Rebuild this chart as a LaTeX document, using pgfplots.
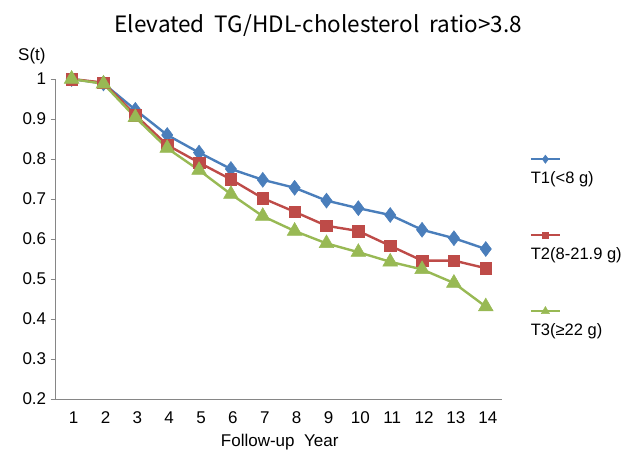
\documentclass[border=0pt]{standalone}
\usepackage{pgfplots}
\pgfplotsset{compat=1.18}
\usepackage{fontspec}
\setmainfont{Liberation Sans}
\newfontfamily\titlefont{Noto Sans CJK KR}
\definecolor{xlblue}{HTML}{4A7EBB}
\definecolor{xlred}{HTML}{BE4B48}
\definecolor{xlgreen}{HTML}{98B954}
\definecolor{axgray}{HTML}{868686}
\begin{document}
\begin{tikzpicture}
\begin{axis}[
  name=main,
  at={(0,0)}, anchor=south west,
  scale only axis,
  width=446pt, height=320pt,
  xmin=0.5, xmax=14.5,
  ymin=0.2, ymax=1,
  axis x line*=bottom, axis y line*=left,
  axis line style={axgray, line width=0.8pt},
  xtick={1,...,14},
  xticklabels={1,2,3,4,5,6,7,8,9,10,11,12,13,14},
  extra x ticks={0.5,1.5,...,14.5},
  extra x tick labels={},
  extra x tick style={major tick length=5pt, tick style={axgray, line width=0.8pt}},
  ytick={0.2,0.3,...,1.0},
  yticklabels={0.2,0.3,0.4,0.5,0.6,0.7,0.8,0.9,1},
  tick align=outside,
  x tick style={draw=none},
  y tick style={axgray, line width=0.8pt},
  major tick length=5pt,
  tick label style={font=\fontsize{17}{20}\selectfont},
  xticklabel style={yshift=-4pt, xshift=2pt},
  yticklabel style={xshift=-1pt},
  /pgf/number format/assume math mode=true,
  clip=false,
  legend style={
    at={(472pt,230pt)}, anchor=north west,
    draw=none, fill=none,
    font=\fontsize{16.5}{19}\selectfont,
    nodes={text height=12pt, text depth=4pt, inner sep=0pt, anchor=west},
    row sep=60pt, column sep=0pt,
  },
  legend cell align=left,
  legend image code/.code={
    \draw[overlay, mark repeat=2, mark phase=2, #1, every mark/.append style={scale=0.55}]
      plot coordinates {(0pt,20pt) (14.5pt,20pt) (29pt,20pt)};
  },
]
\addplot[xlblue, line width=2.4pt, mark=diamond*, mark size=7.5pt, mark options={solid, fill=xlblue, line width=0.5pt}]
coordinates {(1,1.0) (2,0.989) (3,0.923) (4,0.86) (5,0.816) (6,0.775) (7,0.748) (8,0.728) (9,0.696) (10,0.677) (11,0.66) (12,0.623) (13,0.602) (14,0.575)};
\addlegendentry{T1(<8 g)}
\addplot[xlred, line width=2.4pt, mark=square*, mark size=5.8pt, mark options={solid, fill=xlred, line width=0.5pt}]
coordinates {(1,1.0) (2,0.991) (3,0.91) (4,0.835) (5,0.791) (6,0.749) (7,0.702) (8,0.668) (9,0.633) (10,0.62) (11,0.583) (12,0.546) (13,0.546) (14,0.527)};
\addlegendentry{T2(8-21.9 g)}
\addplot[xlgreen, line width=2.4pt, mark=triangle*, mark size=8.5pt, mark options={solid, fill=xlgreen, line width=0.5pt}]
coordinates {(1,1.0) (2,0.988) (3,0.904) (4,0.827) (5,0.772) (6,0.712) (7,0.657) (8,0.62) (9,0.589) (10,0.567) (11,0.543) (12,0.524) (13,0.49) (14,0.431)};
\addlegendentry{T3(≥22 g)}
\end{axis}
\useasboundingbox (-55.7pt,-54pt) rectangle (578.3pt,399pt);
\node[font=\titlefont\fontsize{22.5}{26}\selectfont, anchor=base] at (262.6pt,366pt) {Elevated\ \ TG/HDL-cholesterol\ \ ratio>3.8};
\node[font=\fontsize{17}{20}\selectfont, anchor=base west] at (-41pt,338pt) {S(t)};
\node[font=\fontsize{17}{20}\selectfont, anchor=base] at (224pt,-47pt) {Follow-up\ \ Year};
\end{tikzpicture}
\end{document}
